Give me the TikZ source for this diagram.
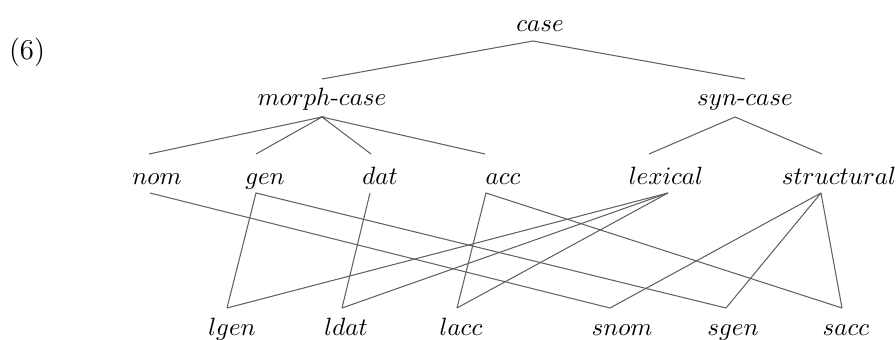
\documentclass[tikz,border=0pt]{standalone}
\begin{document}
\begin{tikzpicture}[x=0.4pt,y=-0.4pt,
  lbl/.style={anchor=base,inner sep=0pt,font=\normalsize},
  edge/.style={line width=0.42pt,draw=black!62}]
\useasboundingbox (0,0) rectangle (896,340);
% labels
\node[lbl,font=\fontsize{11.5}{13}\selectfont] (num) at (27,60) {(6)};
\node[lbl] (case) at (540,31) {$case$};
\node[lbl] (morph) at (322,105) {$morph\mbox{-}case$};
\node[lbl] (syn) at (745,105) {$syn\mbox{-}case$};
\node[lbl] (nom) at (157,185) {$nom$};
\node[lbl] (gen) at (265,185) {$gen$};
\node[lbl] (dat) at (380,185) {$dat$};
\node[lbl] (acc) at (503,185) {$acc$};
\node[lbl] (lex) at (666,185) {$lexical$};
\node[lbl] (str) at (839,185) {$structural$};
\node[lbl] (lgen) at (232,335) {$lgen$};
\node[lbl] (ldat) at (346,335) {$ldat$};
\node[lbl] (lacc) at (461,335) {$lacc$};
\node[lbl] (snom) at (622,335) {$snom$};
\node[lbl] (sgen) at (733,335) {$sgen$};
\node[lbl] (sacc) at (846,335) {$sacc$};
% connector end points
\coordinate (case-b) at (533,41);
\coordinate (morph-t) at (322,79);
\coordinate (syn-t) at (745,79);
\coordinate (morph-b) at (322,117);
\coordinate (syn-b) at (735,117);
\coordinate (nom-t) at (149,154);
\coordinate (gen-t) at (256,154);
\coordinate (dat-t) at (371,154);
\coordinate (acc-t) at (485,154);
\coordinate (lex-t) at (649,154);
\coordinate (str-t) at (822,154);
\coordinate (nom-b) at (150,193);
\coordinate (gen-b) at (256,193);
\coordinate (dat-b) at (370,193);
\coordinate (acc-b) at (486,193);
\coordinate (lex-b) at (668,193);
\coordinate (str-b) at (821,193);
\coordinate (lgen-t) at (227,308);
\coordinate (ldat-t) at (342,308);
\coordinate (lacc-t) at (457,308);
\coordinate (snom-t) at (610,308);
\coordinate (sgen-t) at (726,308);
\coordinate (sacc-t) at (842,308);
% hierarchy
\draw[edge] (morph-t) -- (case-b) -- (syn-t);
\draw[edge] (nom-t) -- (morph-b) -- (gen-t);
\draw[edge] (dat-t) -- (morph-b) -- (acc-t);
\draw[edge] (lex-t) -- (syn-b) -- (str-t);
% cross classification
\draw[edge] (nom-b) -- (snom-t);
\draw[edge] (lgen-t) -- (gen-b) -- (sgen-t);
\draw[edge] (dat-b) -- (ldat-t);
\draw[edge] (lacc-t) -- (acc-b) -- (sacc-t);
\draw[edge] (lgen-t) -- (lex-b);
\draw[edge] (ldat-t) -- (lex-b);
\draw[edge] (lacc-t) -- (lex-b);
\draw[edge] (snom-t) -- (str-b);
\draw[edge] (sgen-t) -- (str-b);
\draw[edge] (sacc-t) -- (str-b);
\end{tikzpicture}
\end{document}
